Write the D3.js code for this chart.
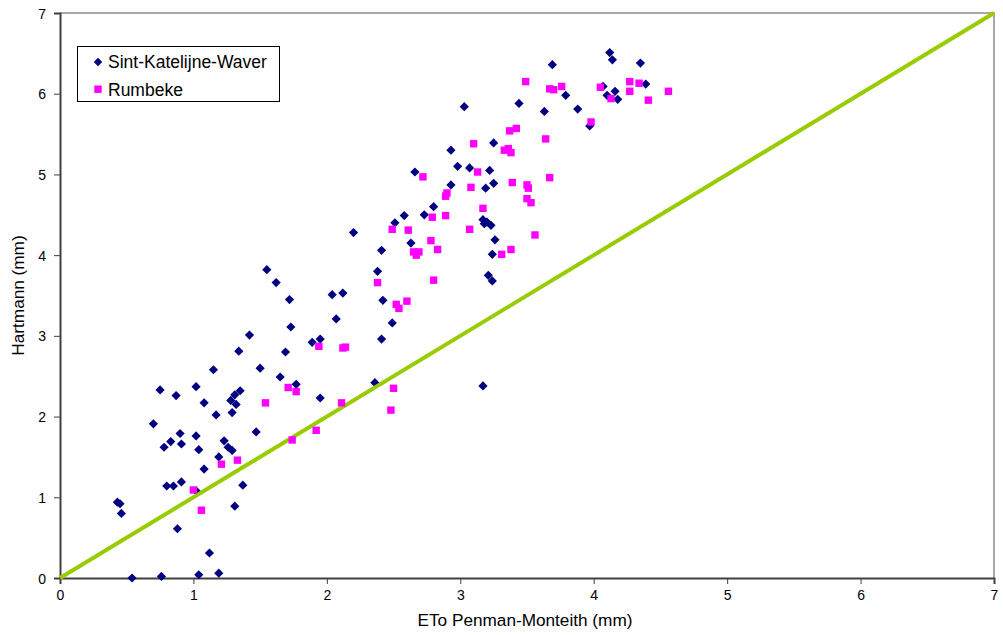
<!DOCTYPE html>
<html><head><meta charset="utf-8">
<script src="https://cdn.jsdelivr.net/npm/d3@7/dist/d3.min.js"></script>
<style>body{margin:0;background:#fff;} text{font-family:"Liberation Sans",Arial,sans-serif;}</style>
</head><body><svg id="c" width="1003" height="635"></svg>
<script>
const seriesNames = ["Sint-Katelijne-Waver", "Rumbeke"];
const xTicks = [0,1,2,3,4,5,6,7];
const yTicks = [0,1,2,3,4,5,6,7];
const xTitle = "ETo Penman-Monteith (mm)";
const yTitle = "Hartmann (mm)";
const refLine = [[0,0],[7,7]];

const sintX = [0.43,0.45,0.46,0.54,0.76,1.04,1.19,1.12,0.88,0.70,0.78,0.83,0.90,0.91,0.80,0.85,0.91,0.75,0.87,1.02,1.08,1.15,1.17,1.02,1.04,1.08,1.02,1.19,1.23,1.26,1.29,1.29,1.28,1.32,1.31,1.35,1.34,1.42,1.31,1.37,1.47,1.50,1.65,1.69,1.77,1.73,1.72,1.55,1.62,1.89,1.95,1.95,2.04,2.12,2.07,2.20,2.36,2.38,2.41,2.42,2.49,2.41,2.51,2.58,2.63,2.66,2.73,2.80,2.93,2.93,2.98,3.03,3.07,3.22,3.25,3.19,3.25,3.17,3.20,3.23,3.18,3.26,3.24,3.21,3.24,3.17,3.44,3.63,3.69,3.79,3.88,3.97,4.07,4.10,4.12,4.14,4.16,4.18,4.35,4.39];
const sintY = [0.94,0.92,0.80,0.00,0.02,0.04,0.06,0.31,0.61,1.91,1.62,1.69,1.79,1.66,1.14,1.14,1.19,2.33,2.26,2.37,2.17,2.58,2.02,1.76,1.59,1.35,1.08,1.50,1.70,1.62,1.58,2.05,2.20,2.15,2.27,2.32,2.81,3.01,0.89,1.15,1.81,2.60,2.49,2.80,2.40,3.11,3.45,3.82,3.66,2.92,2.96,2.23,3.51,3.53,3.21,4.28,2.42,3.80,4.06,3.44,3.16,2.96,4.40,4.49,4.15,5.03,4.50,4.60,4.87,5.30,5.10,5.84,5.08,5.05,4.89,4.83,5.39,4.44,4.41,4.37,4.39,4.19,4.01,3.75,3.68,2.38,5.88,5.78,6.36,5.98,5.81,5.60,6.09,5.98,6.51,6.42,6.03,5.93,6.38,6.12];

const rumX = [1.00,1.06,1.21,1.33,1.54,1.71,1.77,1.74,1.92,1.94,2.12,2.14,2.11,2.38,2.50,2.48,2.52,2.54,2.60,2.49,2.61,2.65,2.67,2.69,2.72,2.78,2.83,2.79,2.80,2.89,2.90,2.89,3.07,3.08,3.10,3.13,3.17,3.31,3.33,3.36,3.38,3.37,3.42,3.38,3.39,3.49,3.50,3.51,3.50,3.53,3.56,3.64,3.67,3.67,3.70,3.76,3.98,4.05,4.13,4.27,4.34,4.27,4.41,4.56];
const rumY = [1.09,0.84,1.41,1.46,2.17,2.36,2.31,1.71,1.83,2.87,2.85,2.86,2.17,3.66,2.35,2.08,3.39,3.34,3.43,4.32,4.31,4.04,4.00,4.04,4.97,4.18,4.07,4.47,3.69,4.73,4.77,4.49,4.32,4.84,5.38,5.03,4.58,4.01,5.30,5.32,5.27,5.54,5.57,4.07,4.90,6.15,4.87,4.83,4.70,4.65,4.25,5.44,4.96,6.06,6.05,6.09,5.65,6.08,5.94,6.15,6.13,6.03,5.92,6.03];

const svg = d3.select("#c");
const L = 60, R = 994, T = 13, B = 578;
const x = d3.scaleLinear().domain([0,7]).range([L,R]);
const y = d3.scaleLinear().domain([0,7]).range([B,T]);

// plot border (top/right)
svg.append("path").attr("d", `M${L},${T}H${R}V${B}`).attr("fill","none").attr("stroke","#8c8c8c").attr("stroke-width",1.5);

// axes
const xa = svg.append("g").attr("transform",`translate(0,${B})`)
  .call(d3.axisBottom(x).tickValues(xTicks).tickFormat(d3.format("d")).tickSize(6).tickPadding(16));
const ya = svg.append("g").attr("transform",`translate(${L},0)`)
  .call(d3.axisLeft(y).tickValues(yTicks).tickFormat(d3.format("d")).tickSize(6).tickPadding(8));
[xa,ya].forEach(g=>{
  g.select(".domain").attr("stroke","#404040").attr("stroke-width",2);
  g.selectAll(".tick line").attr("stroke","#404040").attr("stroke-width",1);
  g.selectAll(".tick text").attr("font-size",14).attr("fill","#000").attr("font-family","Liberation Sans, Arial, sans-serif");
});
xa.selectAll(".tick text").attr("dy","0");
ya.selectAll(".tick text").attr("dy","0.36em");

// series 1 diamonds
const sint = sintX.map((v,i)=>[v,sintY[i]]);
const rum = rumX.map((v,i)=>[v,rumY[i]]);
const diamond = s => `M0,${-s}L${s},0L0,${s}L${-s},0Z`;
svg.append("g").selectAll("path").data(sint).join("path")
  .attr("d", diamond(4.6))
  .attr("transform", d=>`translate(${x(d[0])},${y(d[1])})`)
  .attr("fill","#000080");

// reference line
svg.append("line").attr("x1",x(refLine[0][0])).attr("y1",y(refLine[0][1]))
  .attr("x2",x(refLine[1][0])).attr("y2",y(refLine[1][1]))
  .attr("stroke","#99cc00").attr("stroke-width",4);

// series 2 squares
svg.append("g").selectAll("rect").data(rum).join("rect")
  .attr("x", d=>x(d[0])-3.7).attr("y", d=>y(d[1])-3.7)
  .attr("width",7.4).attr("height",7.4).attr("fill","#ff00ff");

// titles
svg.append("text").attr("x",525).attr("y",626).attr("text-anchor","middle")
  .attr("font-size",17.2).text(xTitle);
svg.append("text").attr("transform",`translate(24,${(T+B)/2}) rotate(-90)`).attr("text-anchor","middle")
  .attr("font-size",17.2).text(yTitle);

// legend
const lg = svg.append("g");
lg.append("rect").attr("x",77.5).attr("y",46.5).attr("width",202).attr("height",55)
  .attr("fill","#fff").attr("stroke","#000").attr("stroke-width",1);
lg.append("path").attr("d",diamond(4.2)).attr("transform","translate(98,62)").attr("fill","#000080");
lg.append("rect").attr("x",94.3).attr("y",85.5).attr("width",7.4).attr("height",7.4).attr("fill","#ff00ff");
lg.append("text").attr("x",108).attr("y",68).attr("font-size",17.5).text(seriesNames[0]);
lg.append("text").attr("x",108).attr("y",95.5).attr("font-size",17.5).text(seriesNames[1]);
</script></body></html>
